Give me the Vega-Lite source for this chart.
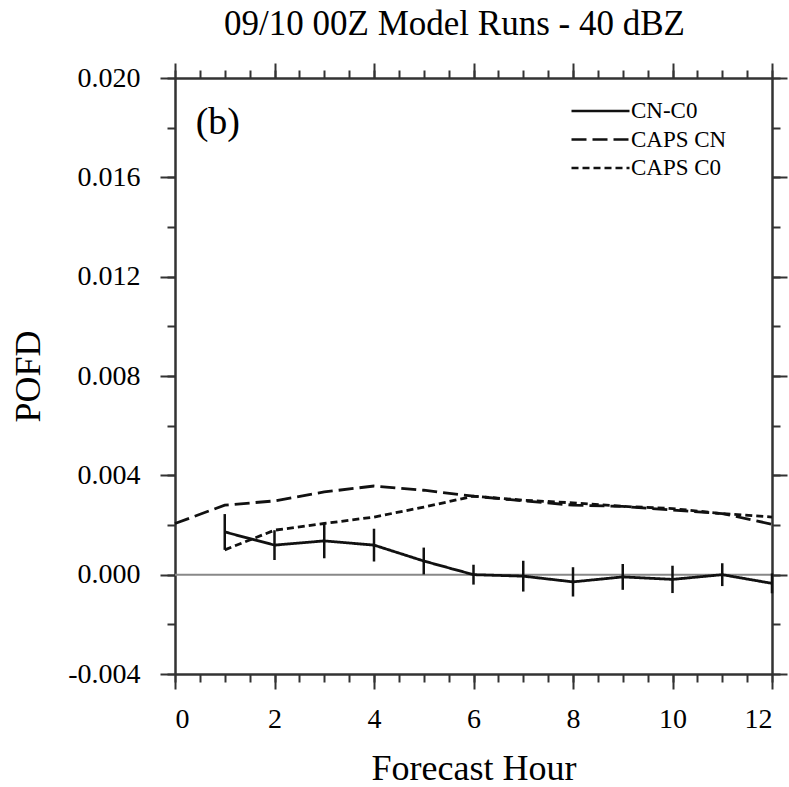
{
  "$schema": "https://vega.github.io/schema/vega-lite/v6.json",
  "width": 597,
  "height": 596,
  "autosize": "none",
  "padding": {"left": 175, "top": 78, "right": 17, "bottom": 113},
  "background": "white",
  "title": {"text": "09/10 00Z Model Runs - 40 dBZ", "font": "Liberation Serif", "fontSize": 35, "fontWeight": "normal", "color": "#000", "anchor": "middle", "offset": 20, "dx": -19},
  "config": {
    "view": {"stroke": null},
    "axis": {"grid": false, "domainColor": "#333", "domainWidth": 2, "tickColor": "#333", "tickWidth": 2, "labelFont": "Liberation Serif", "labelFontSize": 28, "labelColor": "#000", "titleFont": "Liberation Serif", "titleFontSize": 36, "titleFontWeight": "normal", "titleColor": "#000"}
  },
  "datasets": {
    "lines": [
      {"hour": 0, "series": "CAPS CN", "pofd": 0.00206},
      {"hour": 1, "series": "CAPS CN", "pofd": 0.0028},
      {"hour": 2, "series": "CAPS CN", "pofd": 0.00297},
      {"hour": 3, "series": "CAPS CN", "pofd": 0.00333},
      {"hour": 4, "series": "CAPS CN", "pofd": 0.00357},
      {"hour": 5, "series": "CAPS CN", "pofd": 0.0034},
      {"hour": 6, "series": "CAPS CN", "pofd": 0.00316},
      {"hour": 7, "series": "CAPS CN", "pofd": 0.00297},
      {"hour": 8, "series": "CAPS CN", "pofd": 0.0028},
      {"hour": 9, "series": "CAPS CN", "pofd": 0.00275},
      {"hour": 10, "series": "CAPS CN", "pofd": 0.0026},
      {"hour": 11, "series": "CAPS CN", "pofd": 0.00246},
      {"hour": 12, "series": "CAPS CN", "pofd": 0.00203},
      {"hour": 1, "series": "CAPS C0", "pofd": 0.0010},
      {"hour": 2, "series": "CAPS C0", "pofd": 0.00179},
      {"hour": 3, "series": "CAPS C0", "pofd": 0.00206},
      {"hour": 4, "series": "CAPS C0", "pofd": 0.00232},
      {"hour": 5, "series": "CAPS C0", "pofd": 0.00272},
      {"hour": 6, "series": "CAPS C0", "pofd": 0.00316},
      {"hour": 7, "series": "CAPS C0", "pofd": 0.0030},
      {"hour": 8, "series": "CAPS C0", "pofd": 0.00289},
      {"hour": 9, "series": "CAPS C0", "pofd": 0.00275},
      {"hour": 10, "series": "CAPS C0", "pofd": 0.00266},
      {"hour": 11, "series": "CAPS C0", "pofd": 0.00246},
      {"hour": 12, "series": "CAPS C0", "pofd": 0.00232},
      {"hour": 1, "series": "CN-C0", "pofd": 0.00172},
      {"hour": 2, "series": "CN-C0", "pofd": 0.00119},
      {"hour": 3, "series": "CN-C0", "pofd": 0.00136},
      {"hour": 4, "series": "CN-C0", "pofd": 0.00119},
      {"hour": 5, "series": "CN-C0", "pofd": 0.00055},
      {"hour": 6, "series": "CN-C0", "pofd": 0.0},
      {"hour": 7, "series": "CN-C0", "pofd": -0.00006},
      {"hour": 8, "series": "CN-C0", "pofd": -0.00029},
      {"hour": 9, "series": "CN-C0", "pofd": -0.00009},
      {"hour": 10, "series": "CN-C0", "pofd": -0.00019},
      {"hour": 11, "series": "CN-C0", "pofd": 0.0},
      {"hour": 12, "series": "CN-C0", "pofd": -0.00035}
    ],
    "bars": [
      {"hour": 1, "lo": 0.0010, "hi": 0.00244},
      {"hour": 2, "lo": 0.00059, "hi": 0.00179},
      {"hour": 3, "lo": 0.00066, "hi": 0.00206},
      {"hour": 4, "lo": 0.00053, "hi": 0.00185},
      {"hour": 5, "lo": 0.00001, "hi": 0.00109},
      {"hour": 6, "lo": -0.0004, "hi": 0.0004},
      {"hour": 7, "lo": -0.00068, "hi": 0.00056},
      {"hour": 8, "lo": -0.00088, "hi": 0.0003},
      {"hour": 9, "lo": -0.00061, "hi": 0.00043},
      {"hour": 10, "lo": -0.00074, "hi": 0.00036},
      {"hour": 11, "lo": -0.00046, "hi": 0.00046},
      {"hour": 12, "lo": -0.00075, "hi": 0.00005}
    ]
  },
  "resolve": {"axis": {"x": "independent", "y": "independent"}},
  "layer": [
    {
      "data": {"values": [{}]},
      "mark": {"type": "rule", "color": "#888", "strokeWidth": 2},
      "encoding": {
        "x": {"datum": 0, "type": "quantitative", "scale": {"domain": [0, 12], "nice": false, "zero": false}, "axis": {"orient": "top", "values": [0,0.5,1,1.5,2,2.5,3,3.5,4,4.5,5,5.5,6,6.5,7,7.5,8,8.5,9,9.5,10,10.5,11,11.5,12], "labels": false, "tickSize": 8, "title": null}},
        "x2": {"datum": 12},
        "y": {"datum": 0, "type": "quantitative", "scale": {"domain": [-0.004, 0.02], "nice": false, "zero": false}, "axis": {"orient": "right", "values": [-0.004,-0.002,0,0.002,0.004,0.006,0.008,0.01,0.012,0.014,0.016,0.018,0.02], "labels": false, "tickSize": 8, "title": null}}
      }
    },
    {
      "data": {"name": "bars"},
      "mark": {"type": "rule", "color": "#111", "strokeWidth": 2.5},
      "encoding": {
        "x": {"field": "hour", "type": "quantitative", "axis": {"orient": "bottom", "values": [0,0.5,1,1.5,2,2.5,3,3.5,4,4.5,5,5.5,6,6.5,7,7.5,8,8.5,9,9.5,10,10.5,11,11.5,12], "labels": false, "tickSize": 8, "title": null}},
        "y": {"field": "lo", "type": "quantitative", "axis": {"orient": "left", "values": [-0.004,-0.002,0,0.002,0.004,0.006,0.008,0.01,0.012,0.014,0.016,0.018,0.02], "labels": false, "tickSize": 8, "title": null}},
        "y2": {"field": "hi"}
      }
    },
    {
      "data": {"name": "lines"},
      "mark": {"type": "line", "color": "#111", "strokeWidth": 2.8},
      "encoding": {
        "x": {"field": "hour", "type": "quantitative", "axis": {"orient": "bottom", "values": [0,2,4,6,8,10,12], "tickSize": 15, "labelPadding": 16, "title": "Forecast Hour", "titlePadding": 18}},
        "y": {"field": "pofd", "type": "quantitative", "axis": {"orient": "left", "values": [-0.004,0,0.004,0.008,0.012,0.016,0.02], "tickSize": 15, "labelPadding": 20, "labelExpr": "datum.value < -0.000001 ? '-' + format(-datum.value, '.3f') : format(abs(datum.value), '.3f')", "title": "POFD", "titlePadding": 20}},
        "strokeDash": {"field": "series", "type": "nominal", "scale": {"domain": ["CN-C0", "CAPS CN", "CAPS C0"], "range": [[1, 0], [15, 6], [7, 4]]}, "legend": {"title": null, "orient": "none", "legendX": 395, "legendY": 17, "symbolType": "M-1,0H3", "symbolSize": 841, "symbolStrokeWidth": 2.5, "symbolStrokeColor": "#111", "symbolFillColor": "transparent", "labelOffset": 29, "labelFont": "Liberation Serif", "labelFontSize": 23, "labelColor": "#000", "rowPadding": 0.5}}
      }
    },
    {
      "data": {"values": [{}]},
      "mark": {"type": "text", "text": "(b)", "font": "Liberation Serif", "fontSize": 38, "color": "#000", "align": "center", "baseline": "middle"},
      "encoding": {
        "x": {"datum": 0.86, "type": "quantitative", "axis": {"orient": "top", "values": [0,2,4,6,8,10,12], "labels": false, "tickSize": 15, "title": null}},
        "y": {"datum": 0.0182, "type": "quantitative", "axis": {"orient": "right", "values": [-0.004,0,0.004,0.008,0.012,0.016,0.02], "labels": false, "tickSize": 15, "title": null}}
      }
    }
  ]
}
